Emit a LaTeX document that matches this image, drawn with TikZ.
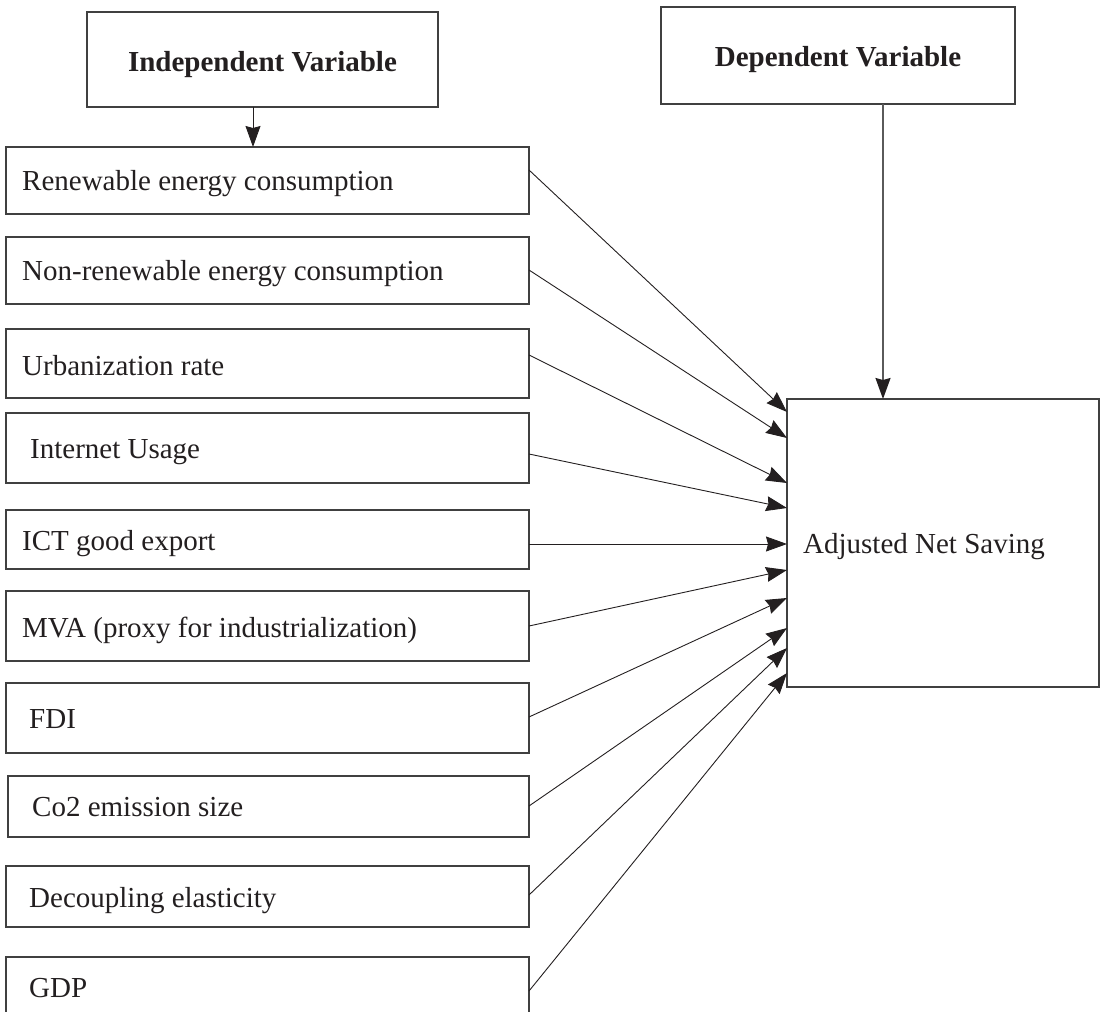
\documentclass[tikz,border=0pt]{standalone}
\usepackage{fontspec}
\setmainfont{Liberation Serif}
\usetikzlibrary{calc,arrows.meta}
\definecolor{ink}{HTML}{231F20}
\definecolor{edge}{HTML}{404040}
\definecolor{greyline}{HTML}{5A5A5A}
\begin{document}
\begin{tikzpicture}[x=1pt,y=-1pt,
  box/.style={draw=edge,line width=1.5pt,rectangle,anchor=north west,inner sep=0pt,outer sep=0pt},
  lbl/.style={anchor=base west,inner sep=0pt,text=ink,font=\fontsize{29}{34}\selectfont},
  head/.style={anchor=base,inner sep=0pt,text=ink,font=\bfseries\fontsize{29}{34}\selectfont},
  arr/.style={draw=ink,line width=0.9pt,-{Stealth[length=21pt,width=15pt,inset=2pt,color=ink]}},
]
\useasboundingbox (0,0) rectangle (1104,1012);
\clip (0,0) rectangle (1104,1012);

% header boxes
\node[box,minimum width=351pt,minimum height=95pt] (ind) at (87,12) {};
\node[head] (indt) at (262.5,71) {Independent Variable};
\node[box,minimum width=354pt,minimum height=97pt] (dep) at (661,7) {};
\node[head] (dept) at (838,66) {Dependent Variable};

% target
\node[box,minimum width=312pt,minimum height=288pt] (t) at (787,399) {};
\node[lbl] (tt) at (803,553) {Adjusted Net Saving};

% independent variable boxes
\node[box,minimum width=523pt,minimum height=67pt] (b1) at (6,147) {};
\node[lbl] (l1) at (22,190) {Renewable energy consumption};
\node[box,minimum width=523pt,minimum height=67pt] (b2) at (6,237) {};
\node[lbl] (l2) at (22,280) {Non-renewable energy consumption};
\node[box,minimum width=523pt,minimum height=69pt] (b3) at (6,329) {};
\node[lbl] (l3) at (22,375) {Urbanization rate};
\node[box,minimum width=523pt,minimum height=70pt] (b4) at (6,413) {};
\node[lbl] (l4) at (30,458) {Internet Usage};
\node[box,minimum width=523pt,minimum height=59pt] (b5) at (6,510) {};
\node[lbl] (l5) at (22,550) {ICT good export};
\node[box,minimum width=523pt,minimum height=70pt] (b6) at (6,591) {};
\node[lbl] (l6) at (22,637) {MVA (proxy for industrialization)};
\node[box,minimum width=523pt,minimum height=70pt] (b7) at (6,683) {};
\node[lbl] (l7) at (29,728) {FDI};
\node[box,minimum width=521pt,minimum height=61pt] (b8) at (8,776) {};
\node[lbl] (l8) at (32,816) {Co2 emission size};
\node[box,minimum width=523pt,minimum height=61pt] (b9) at (6,866) {};
\node[lbl] (l9) at (29,907) {Decoupling elasticity};
\node[box,minimum width=523pt,minimum height=90pt] (b10) at (6,957) {};
\node[lbl] (l10) at (29,997) {GDP};

% connectors
\draw[arr] ($(ind.south west)+(166,0)$) -- ($(b1.north west)+(247,0)$);
\draw[arr,draw=greyline,line width=1.8pt] ($(dep.south west)+(222,0)$) -- ($(t.north west)+(96,0)$);

\draw[arr] ($(b1.north east)+(0,23)$) -- ($(t.north west)+(0,13)$);
\draw[arr] ($(b2.north east)+(0,33)$) -- ($(t.north west)+(0,39)$);
\draw[arr] ($(b3.north east)+(0,26)$) -- ($(t.north west)+(0,84)$);
\draw[arr] ($(b4.north east)+(0,41)$) -- ($(t.north west)+(0,109)$);
\draw[arr] ($(b5.north east)+(0,34)$) -- ($(t.north west)+(0,145)$);
\draw[arr] ($(b6.north east)+(0,35)$) -- ($(t.north west)+(0,171)$);
\draw[arr] ($(b7.north east)+(0,34)$) -- ($(t.north west)+(0,199)$);
\draw[arr] ($(b8.north east)+(0,30)$) -- ($(t.north west)+(0,229)$);
\draw[arr] ($(b9.north east)+(0,29)$) -- ($(t.north west)+(0,249)$);
\draw[arr] ($(b10.north east)+(0,34)$) -- ($(t.north west)+(0,274)$);
\end{tikzpicture}
\end{document}
